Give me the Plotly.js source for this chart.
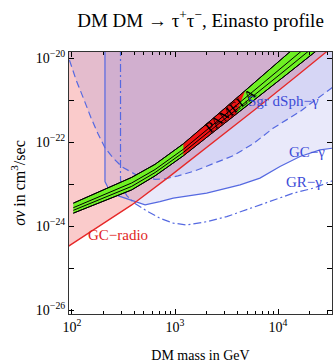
<!DOCTYPE html>
<html><head><meta charset="utf-8">
<script src="https://cdn.plot.ly/plotly-3.0.1.min.js"></script>
<style>html,body{margin:0;padding:0;background:#fff}#chart{width:333px;height:363px}</style>
</head><body><div id="chart"></div>
<script>
// DM mass in GeV ; sigma v in cm^3/sec
const SV_TOP = 1e-19;
const M_RIGHT = 40000;

// GC-radio bound (red line)
const radioMass = [90, 93.5, 187, 380, 893, 2540, 5980, 15280, 29900, 40000];
const radioSv   = [3.16e-25, 3.36e-25, 9.77e-25, 3.18e-24, 1.54e-23, 1.13e-22, 5.96e-22, 3.77e-21, 1.45e-20, 2.58e-20];

// GC-gamma bound (solid blue)
const gcMass = [209, 209, 225, 282, 380, 512, 714, 962, 2030, 4280, 6680, 10450, 16360, 25600, 34200, 40000];
const gcSv   = [1e-19, 1.14e-23, 7.96e-24, 5.21e-24, 4.07e-24, 3.18e-24, 3.82e-24, 4.60e-24, 6.05e-24, 9.55e-24, 1.38e-23, 2.61e-23, 4.51e-23, 6.52e-23, 7.16e-23, 7.5e-23];

// Sgr dSph-gamma bound (dashed blue)
const sgrMass = [87.4, 92.5, 109.4, 130.8, 152.9, 178.9, 209.1, 250.1, 305.8, 437.3, 639.5, 799.7, 1069, 1564, 2045, 3657, 5719, 8944, 16360, 29900, 40000];
const sgrSv   = [1.58e-20, 1.02e-20, 3.04e-21, 1.014e-21, 3.78e-22, 1.57e-22, 7.28e-23, 4.20e-23, 2.56e-23, 1.56e-23, 1.29e-23, 1.33e-23, 1.56e-23, 2.06e-23, 2.64e-23, 4.69e-23, 9.06e-23, 2.12e-22, 5.33e-22, 1.60e-21, 2.72e-21];

// GR-gamma bound (dash-dot blue)
const grMass = [295.8, 295.8, 305.8, 342, 400, 531, 714, 962, 1299, 2030, 3177, 5345, 9000, 14080, 22030, 32000, 40000];
const grSv   = [1e-19, 1.256e-23, 8.09e-24, 5.21e-24, 3.56e-24, 2.29e-24, 1.53e-24, 1.17e-24, 1.06e-24, 1.27e-24, 1.67e-24, 2.65e-24, 4.19e-24, 6.05e-24, 7.96e-24, 1.14e-23, 1.40e-23];

// PAMELA band
const pamUpperMass = [103, 187, 380, 640, 1205, 2445, 5345, 13360, 18280];
const pamUpperSv   = [3.50e-24, 6.68e-24, 1.44e-23, 2.94e-23, 9.06e-23, 3.99e-22, 2.10e-21, 1.45e-20, 2.88e-20];
const pamLowerMass = [103, 187, 380, 640, 1205, 2445, 5345, 11700, 24400, 28600];
const pamLowerSv   = [2.02e-24, 3.56e-24, 7.24e-24, 1.56e-23, 4.69e-23, 1.85e-22, 8.15e-22, 3.78e-21, 1.58e-20, 2.19e-20];
const pamInnerMass = [103, 187, 380, 640, 1205, 2445, 5345, 11700, 24400];
const pamInner1Sv  = [2.73e-24, 5.04e-24, 1.06e-23, 2.21e-23, 6.73e-23, 2.82e-22, 1.37e-21, 6.79e-21, 3.10e-20];
const pamInner2Sv  = [2.36e-24, 4.25e-24, 8.79e-24, 1.87e-23, 5.64e-23, 2.30e-22, 1.06e-21, 5.09e-21, 2.22e-20];
// PAMELA + FERMI (red part)
const pfMass = [1205, 2445, 4786, 3908, 2445, 1205];
const pfSv   = [9.06e-23, 3.99e-22, 1.66e-21, 4.50e-22, 1.85e-22, 4.69e-23];

// ticks
const xTickVals = [100, 1000, 10000];
const xTickText = ['10<sup>2</sup>', '10<sup>3</sup>', '10<sup>4</sup>'];
const xMinorVals = [200,300,400,500,600,700,800,900,2000,3000,4000,5000,6000,7000,8000,9000,20000,30000];
const yTickVals = [1e-26, 1e-24, 1e-22, 1e-20];
const yTickText = ['10<sup>\u221226</sup>', '10<sup>\u221224</sup>', '10<sup>\u221222</sup>', '10<sup>\u221220</sup>'];
const yMinorVals = [1e-25, 1e-23, 1e-21];

const FONT = 'Liberation Serif, Times New Roman, serif';
const BLUE = 'rgb(85,105,225)';
const BLUEFILL = 'rgba(100,100,220,0.14)';

const traces = [
  // pink GC-radio region
  {x: radioMass.concat([M_RIGHT, radioMass[0]]), y: radioSv.concat([SV_TOP, SV_TOP]),
   mode: 'lines', fill: 'toself', fillcolor: 'rgba(238,64,64,0.27)', line: {width: 0}, hoverinfo: 'skip'},
  // Sgr region
  {x: sgrMass.concat([M_RIGHT, sgrMass[0]]), y: sgrSv.concat([SV_TOP, SV_TOP]),
   mode: 'lines', fill: 'toself', fillcolor: BLUEFILL, line: {width: 0}, hoverinfo: 'skip'},
  // GC region
  {x: gcMass.concat([M_RIGHT]), y: gcSv.concat([SV_TOP]),
   mode: 'lines', fill: 'toself', fillcolor: BLUEFILL, line: {width: 0}, hoverinfo: 'skip'},
  // lines
  {x: sgrMass, y: sgrSv, mode: 'lines', line: {color: BLUE, width: 1.2, dash: '7px,4px'}},
  {x: gcMass, y: gcSv, mode: 'lines', line: {color: BLUE, width: 1.2}},
  {x: grMass, y: grSv, mode: 'lines', line: {color: BLUE, width: 1.2, dash: '8px,3px,2px,3px'}},
  {x: radioMass, y: radioSv, mode: 'lines', line: {color: 'rgb(230,40,40)', width: 1.3}},
  // PAMELA band
  {x: pamUpperMass.concat(pamLowerMass.slice().reverse()), y: pamUpperSv.concat(pamLowerSv.slice().reverse()),
   mode: 'lines', fill: 'toself', fillcolor: 'rgb(110,240,35)', line: {color: '#000', width: 1}},
  {x: pfMass, y: pfSv, mode: 'lines', fill: 'toself', fillcolor: 'rgb(240,20,20)', line: {width: 0}},
  {x: pamUpperMass, y: pamUpperSv, mode: 'lines', line: {color: '#000', width: 1}},
  {x: pamLowerMass, y: pamLowerSv, mode: 'lines', line: {color: '#000', width: 1}},
  {x: pamInnerMass, y: pamInner1Sv, mode: 'lines', line: {color: '#000', width: 1}},
  {x: pamInnerMass, y: pamInner2Sv, mode: 'lines', line: {color: '#000', width: 1}}
];

const layout = {
  width: 333, height: 363,
  margin: {l: 69, r: 1, t: 52, b: 49},
  paper_bgcolor: '#fff', plot_bgcolor: '#fff',
  showlegend: false,
  font: {family: FONT, color: '#000', size: 14},
  title: {text: 'DM DM \u2192 \u03c4<sup>+</sup>\u03c4<sup>\u2212</sup>, Einasto profile',
          font: {family: FONT, size: 19, color: '#000'}, x: 0.5, xref: 'paper', y: 1 - 20/363, yref: 'container', yanchor: 'middle'},
  xaxis: {type: 'log', range: [1.971, 4.524], showgrid: false, zeroline: false,
          showline: true, linecolor: '#333', linewidth: 1, mirror: 'ticks',
          ticks: 'inside', ticklen: 5, tickcolor: '#000', tickwidth: 1,
          tickmode: 'array', tickvals: xTickVals, ticktext: xTickText,
          tickfont: {family: FONT, size: 14, color: '#000'},
          minor: {ticks: 'inside', ticklen: 3, tickcolor: '#000', tickmode: 'array', tickvals: xMinorVals, showgrid: false},
          title: {text: 'DM mass in GeV', font: {family: FONT, size: 14, color: '#000'}, standoff: 18}},
  yaxis: {type: 'log', range: [-26.095, -19.857], showgrid: false, zeroline: false,
          showline: true, linecolor: '#333', linewidth: 1, mirror: 'ticks',
          ticks: 'inside', ticklen: 5, tickcolor: '#000', tickwidth: 1,
          tickmode: 'array', tickvals: yTickVals, ticktext: yTickText,
          tickfont: {family: FONT, size: 14, color: '#000'},
          minor: {ticks: 'inside', ticklen: 5, tickcolor: '#000', tickmode: 'array', tickvals: yMinorVals, showgrid: false},
          title: {text: '<i>\u03c3v</i> in cm<sup>3</sup>/sec', font: {family: FONT, size: 16, color: '#000'}, standoff: 6}},
  annotations: [
    {x: 2.447, y: -24.21, xref: 'x', yref: 'y', text: 'GC\u2212radio', showarrow: false, font: {family: FONT, size: 15, color: 'rgb(225,30,30)'}},
    {x: 4.277, y: -22.23, xref: 'x', yref: 'y', text: 'GC\u2212\u03b3', showarrow: false, font: {family: FONT, size: 15, color: 'rgb(60,75,215)'}},
    {x: 4.248, y: -22.95, xref: 'x', yref: 'y', text: 'GR\u2212\u03b3', showarrow: false, font: {family: FONT, size: 15, color: 'rgb(60,75,215)'}},
    {x: 4.058, y: -21.02, xref: 'x', yref: 'y', text: 'Sgr dSph\u2212\u03b3', showarrow: false, font: {family: FONT, size: 15, color: 'rgb(60,75,215)'}},
    {x: 3.53, y: -21.25, xref: 'x', yref: 'y', text: 'PAMELA', textangle: -39, showarrow: false, font: {family: FONT, size: 15, color: '#000'}}
  ]
};

Plotly.newPlot('chart', traces, layout, {displayModeBar: false, staticPlot: true});
</script>
</body></html>
